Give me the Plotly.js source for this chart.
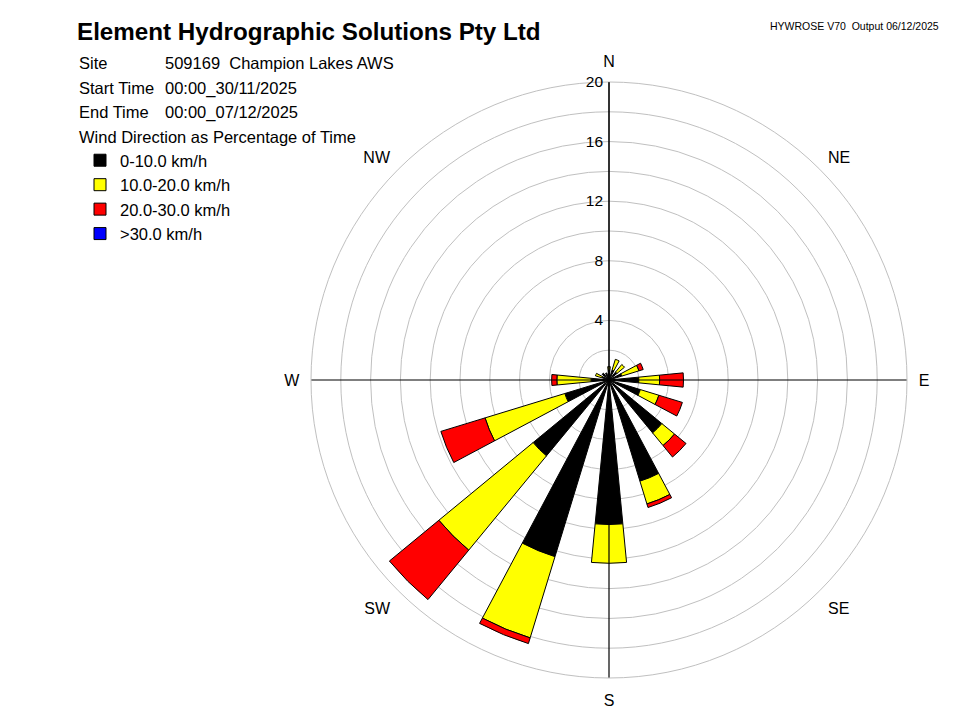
<!DOCTYPE html>
<html>
<head>
<meta charset="utf-8">
<script src="https://cdn.plot.ly/plotly-3.0.1.min.js"></script>
<style>html,body{margin:0;padding:0;background:#fff;}#chart{width:968px;height:726px;}</style>
</head>
<body>
<div id="chart"></div>
<script>
// Direction bins (compass bearing in degrees, wind from)
var dirNames = ['N','NNE','NE','ENE','E','ESE','SE','SSE','S','SSW','SW','WSW','W','WNW','NW','NNW'];
var dirDeg = [0,22.5,45,67.5,90,112.5,135,157.5,180,202.5,225,247.5,270,292.5,315,337.5];
// Percentage of time per speed class
var speed0to10  = [0.65,0.7,0.7,0.9,2.0,2.2,4.6,7.1,9.7,12.4,6.6,3.1,1.2,0.5,0.6,0.5];
var speed10to20 = [0.25,0.75,0.65,1.2,1.4,1.3,1.1,1.6,2.6,5.7,8.2,5.6,2.3,0.45,0,0];
var speed20to30 = [0,0,0,0.3,1.6,1.65,1.0,0.25,0,0.4,4.3,3.1,0.35,0,0,0];
var speedOver30 = [0,0,0,0,0,0,0,0,0,0,0,0,0,0,0,0];
var classNames = ['0-10.0 km/h','10.0-20.0 km/h','20.0-30.0 km/h','>30.0 km/h'];
var classColors = ['#000000','#ffff00','#ff0000','#0000ff'];
// Axis ticks
var ringVals = [2,4,6,8,10,12,14,16,18,20];
var ringText = ['','4','','8','','12','','16','','20'];
var compassVals = [0,45,90,135,180,225,270,315];
var compassText = ['N','NE','E','SE','S','SW','W','NW'];
var crossR = [20,0,20];

var W = 968, H = 726;
function px(x){return x/W;}
function py(y){return 1-y/H;}

var series = [speed0to10, speed10to20, speed20to30, speedOver30];
var traces = [];
// crosshair axis lines
traces.push({type:'scatterpolar', r:crossR, theta:[0,0,180], mode:'lines', line:{color:'#000',width:1.2}, showlegend:false, hoverinfo:'skip'});
traces.push({type:'scatterpolar', r:crossR, theta:[90,0,270], mode:'lines', line:{color:'#000',width:1.2}, showlegend:false, hoverinfo:'skip'});
for (var i=0;i<series.length;i++){
  traces.push({
    type:'barpolar', name:classNames[i], r:series[i], theta:dirDeg, width:11,
    marker:{color:classColors[i], line:{color:'#000000', width:1}},
    legendgroup:'g'+i
  });
}

var font = 'Liberation Sans, Arial, sans-serif';
var ann = [];
function txt(t,x,y,size,opts){
  var a = {text:t, xref:'paper', yref:'paper', x:px(x), y:py(y), xanchor:'left', yanchor:'middle', showarrow:false, font:{family:font,size:size,color:'#000'}};
  if(opts){for(var k in opts){a[k]=opts[k];}}
  ann.push(a);
}
txt('<b>Element Hydrographic Solutions Pty Ltd</b>',75,31,24.2);
txt('HYWROSE V70  Output 06/12/2025',768,26,10.5);
txt('Site',77,63,16.5);
txt('509169  Champion Lakes AWS',163,63,16.5);
txt('Start Time',77,88,16.5);
txt('00:00_30/11/2025',163,88,16.5);
txt('End Time',77,112,16.5);
txt('00:00_07/12/2025',163,112,16.5);
txt('Wind Direction as Percentage of Time',77,137,16.5);

var layout = {
  width:W, height:H,
  margin:{l:0,r:0,t:0,b:0},
  paper_bgcolor:'#fff',
  font:{family:font, size:15, color:'#000'},
  showlegend:true,
  legend:{x:px(80), y:py(143), xanchor:'left', yanchor:'top', font:{family:font,size:16.5,color:'#000'}, tracegroupgap:6.5, traceorder:'normal', bgcolor:'rgba(0,0,0,0)'},
  annotations:ann,
  polar:{
    domain:{x:[px(311),px(907)], y:[py(678),py(82)]},
    bgcolor:'#fff',
    barmode:'stack',
    radialaxis:{range:[0,20], tickvals:ringVals, ticktext:ringText, angle:90, side:'counterclockwise', tickangle:90,
      showline:true, linecolor:'#000', linewidth:1, gridcolor:'#c0c0c0', gridwidth:1, ticks:'', tickfont:{family:font,size:15.5,color:'#000'}},
    angularaxis:{rotation:90, direction:'clockwise', tickmode:'array', tickvals:compassVals, ticktext:compassText,
      showgrid:false, showline:true, linecolor:'#c0c0c0', linewidth:1, ticks:'outside', ticklen:8, tickcolor:'rgba(0,0,0,0)', tickfont:{family:font,size:16,color:'#000'}}
  }
};
Plotly.newPlot('chart', traces, layout, {displayModeBar:false, staticPlot:true});
</script>
</body>
</html>
